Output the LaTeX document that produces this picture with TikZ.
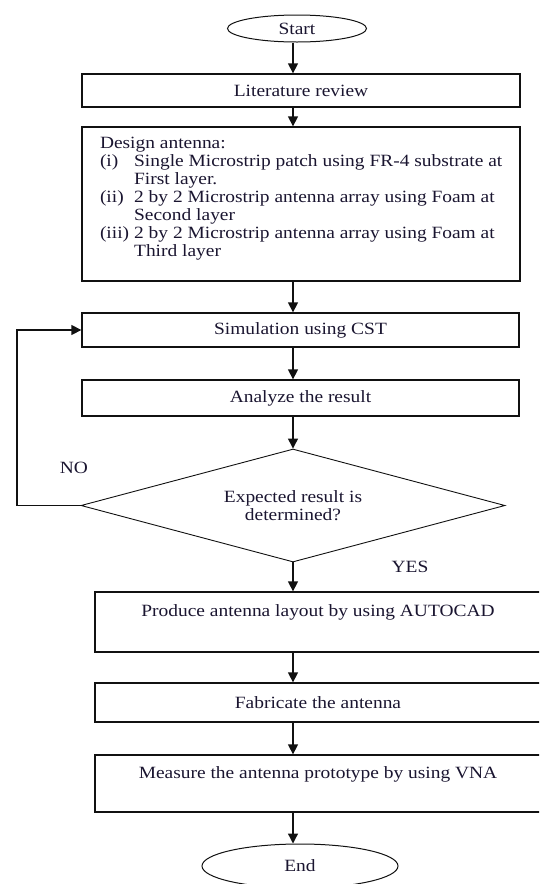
\documentclass[tikz,border=0pt]{standalone}
\usepackage{fontspec}
\setmainfont{Liberation Serif}[FakeStretch=1.13]
\usepackage{tikz}
\usetikzlibrary{arrows.meta,shapes.geometric}
\definecolor{linec}{HTML}{111111}
\definecolor{textc}{HTML}{1A1530}
\newcommand{\flowfont}{\fontsize{17.2}{18}\selectfont}
\tikzset{
  ar/.style={-{Triangle[length=10pt,width=10pt]},line width=1.3pt,linec},
  box/.style={draw=linec,line width=1.3pt,rectangle,inner sep=0pt,text=textc,font=\flowfont},
  term/.style={draw=linec,line width=1pt,ellipse,inner sep=0pt,text=textc,font=\flowfont},
  dec/.style={draw=linec,line width=0.9pt,diamond,aspect=3.75,inner sep=0pt,align=center,text=textc,font=\flowfont},
  lbl/.style={inner sep=0pt,text=textc,font=\flowfont}
}

\begin{document}
\begin{tikzpicture}[x=1pt,y=-1pt]
\useasboundingbox (0,0) rectangle (539,884);
\clip (0,0) rectangle (539,884);
\coordinate (col) at (293,0);
% terminals and steps
\node[term,minimum width=139pt,minimum height=27pt] (start) at (297,28.5) {Start};
\node[box,minimum width=438pt,minimum height=33pt] (lit) at (301,90.5) {Literature review};
\node[box,minimum width=438pt,text height=21pt,text depth=133pt] (design) at (301,204) {%
  \begin{tabular*}{402pt}[t]{@{}l@{\hspace{5pt}}l@{\extracolsep{\fill}}}
  \multicolumn{2}{@{}l}{Design antenna:}\\
  (i) & Single Microstrip patch using FR-4 substrate at\\
      & First layer.\\
  (ii) & 2 by 2 Microstrip antenna array using Foam at\\
       & Second layer\\
  (iii) & 2 by 2 Microstrip antenna array using Foam at\\
        & Third layer
  \end{tabular*}};
\node[box,minimum width=437pt,minimum height=34pt] (sim) at (300.5,330) {Simulation using CST};
\node[box,minimum width=437pt,minimum height=36pt] (ana) at (300.5,398) {Analyze the result};
\node[dec,minimum width=424pt,minimum height=113pt] (dia) at (293,505.5) {Expected result is\\determined?};
\node[box,minimum width=446pt,text height=24pt,text depth=36pt] (prod) at (318,622) {Produce antenna layout by using AUTOCAD};
\node[box,minimum width=446pt,minimum height=39pt] (fab) at (318,702.5) {Fabricate the antenna};
\node[box,minimum width=446pt,text height=23pt,text depth=34pt] (meas) at (318,783.5) {Measure the antenna prototype by using VNA};
\node[term,minimum width=196pt,minimum height=44pt] (end) at (300,866) {End};
% branch labels
\node[lbl] (no) at (74,468) {NO};
\node[lbl] (yes) at (410,567) {YES};
% connectors
\draw[ar] (start.south -| col) -- (lit.north -| col);
\draw[ar] (lit.south -| col) -- (design.north -| col);
\draw[ar] (design.south -| col) -- (sim.north -| col);
\draw[ar] (sim.south -| col) -- (ana.north -| col);
\draw[ar] (ana.south -| col) -- (dia.north);
\draw[ar] (dia.south) -- (prod.north -| col);
\draw[ar] (prod.south -| col) -- (fab.north -| col);
\draw[ar] (fab.south -| col) -- (meas.north -| col);
\draw[ar] (meas.south -| col) -- (end.north -| col);
\coordinate (loop) at (17,505.5);
\draw[ar] (dia.west) -- (loop) |- (sim.west);
\end{tikzpicture}
\end{document}
